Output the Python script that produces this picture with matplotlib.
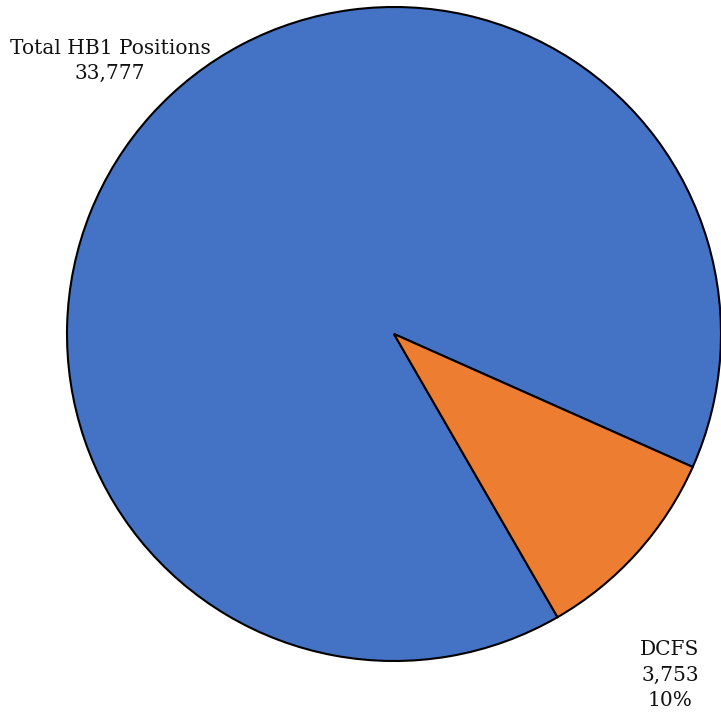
import matplotlib.pyplot as plt

labels = ['Total HB1 Positions', 'DCFS']
values = [33777, 3753]
colors = ['#4472C4', '#ED7D31']

W, H = 721, 715
cx, cy, r = 394, 334, 327

fig = plt.figure(figsize=(W / 100, H / 100), dpi=100)
ax = fig.add_axes([(cx - r) / W, (H - cy - r) / H, 2 * r / W, 2 * r / H])

ax.pie(values, colors=colors, startangle=-60, counterclock=False, radius=1,
       wedgeprops=dict(edgecolor='black', linewidth=1.5))
ax.set_xlim(-1, 1)
ax.set_ylim(-1, 1)
ax.set_aspect('equal')
ax.axis('off')

total = sum(values)
font = dict(family=['DejaVu Serif'], fontsize=14.5, color='#111111')


def to_data(px, py):
    return (px - cx) / r, (cy - py) / r


x, y = to_data(110, 61)
ax.text(x, y, f'{labels[0]}\n{values[0]:,}', ha='center', va='center',
        linespacing=1.4, clip_on=False, **font)
x, y = to_data(670, 675)
ax.text(x, y, f'{labels[1]}\n{values[1]:,}\n{values[1] / total:.0%}',
        ha='center', va='center', linespacing=1.45, clip_on=False, **font)

fig.savefig('out.png', dpi=100)
